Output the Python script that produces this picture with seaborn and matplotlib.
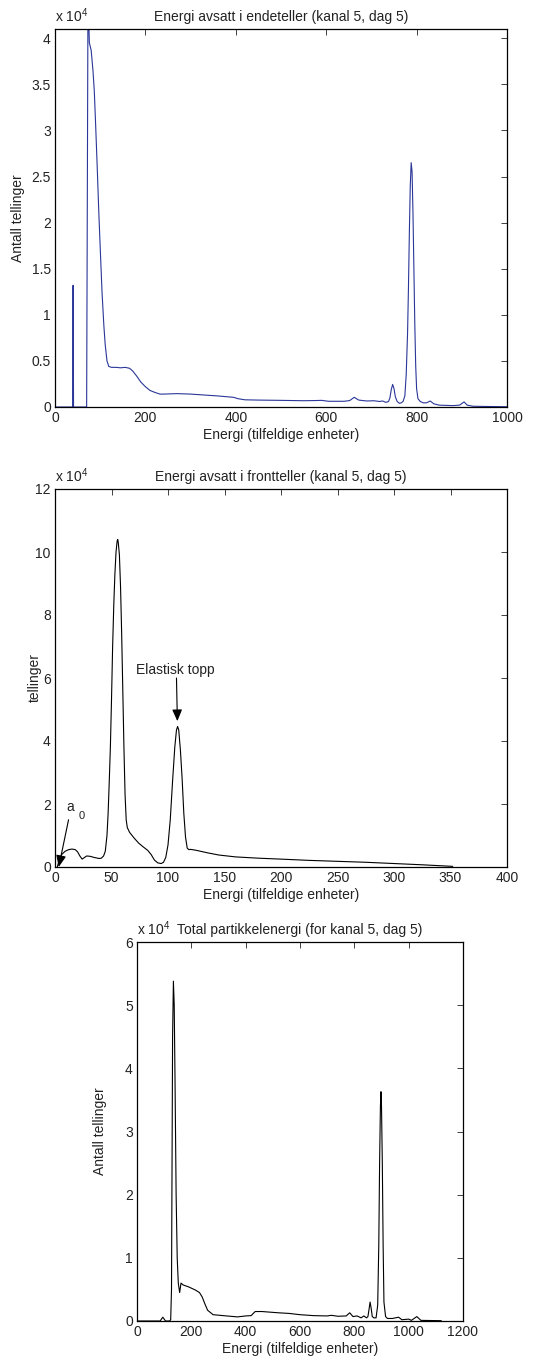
import numpy as np
import pandas as pd
import matplotlib
matplotlib.use("Agg")
import matplotlib.pyplot as plt
from matplotlib.ticker import FuncFormatter
import seaborn as sns

# --- Energy deposited in the end detector (channel 5, day 5) ---
end_energy = [0, 39, 40, 41, 70, 73, 76, 80, 84, 87, 90, 94, 97, 101, 104, 108, 111, 115, 119,
              125, 135, 145, 155, 165, 172, 180, 190, 200, 210, 220, 232, 240, 270, 300, 330,
              360, 395, 405, 420, 450, 500, 550, 575, 590, 605, 640, 652, 662, 672, 690, 705,
              718, 725, 732, 738, 741, 744, 747, 750, 753, 757, 762, 766, 770, 774, 777, 780,
              782, 784, 786, 788, 790, 792, 794, 796, 798, 800, 803, 808, 815, 822, 830, 838,
              850, 880, 895, 905, 912, 925, 950, 1000]
end_counts = [0, 0, 13200, 0, 0, 45000, 39500, 38700, 36500, 34200, 30500, 25200, 21000, 16100,
              12500, 8900, 6800, 5000, 4400, 4300, 4300, 4250, 4300, 4200, 3900, 3400, 2700,
              2200, 1800, 1600, 1400, 1400, 1450, 1400, 1300, 1200, 1050, 900, 780, 750, 720,
              680, 700, 720, 620, 620, 700, 1050, 750, 650, 680, 600, 650, 500, 600, 1000, 1900,
              2450, 2000, 1100, 600, 400, 450, 600, 1200, 3500, 8000, 13000, 19000, 24000,
              26500, 25500, 21000, 15000, 9000, 4500, 2000, 900, 600, 450, 450, 650, 350, 200,
              150, 200, 550, 200, 80, 60, 30]

# --- Energy deposited in the front detector (channel 5, day 5) ---
front_energy = [2, 4, 6, 9, 12, 15, 18, 20, 22, 24, 26, 28, 31, 35, 39, 41, 43, 44.5, 46, 47, 48,
                49, 50, 51, 52, 53, 54, 55, 55.5, 56, 57, 58, 59, 60, 61, 62, 63, 64, 66, 70, 74,
                78, 82, 85, 88, 91, 94, 96, 98, 100, 102, 104, 106, 107.5, 108.5, 109.5, 111,
                112.5, 114, 115.5, 117, 118.5, 120, 125, 135, 145, 160, 180, 200, 225, 250, 275,
                300, 325, 352]
front_counts = [0, 2500, 4000, 5000, 5500, 5700, 5500, 4800, 3500, 2500, 3000, 3500, 3400, 3000,
                2700, 2800, 3500, 5000, 10000, 17000, 27000, 38000, 53000, 70000, 83000, 93000,
                100000, 103500, 104000, 103000, 99000, 89000, 74000, 56000, 38000, 23000, 15000,
                12500, 11000, 9200, 7600, 6400, 5300, 4000, 2200, 1300, 1100, 1500, 3000, 7000,
                15000, 27000, 38000, 43500, 44600, 43500, 37000, 28000, 17000, 9500, 6000, 5500,
                5600, 5300, 4500, 3800, 3200, 2800, 2500, 2100, 1800, 1500, 1100, 700, 200]

# --- Total particle energy (channel 5, day 5) ---
total_energy = [0, 85, 95, 105, 120, 124, 127, 129, 131, 134, 137, 140, 144, 148, 152, 157, 162,
                170, 190, 215, 230, 240, 250, 260, 280, 330, 370, 400, 420, 435, 460, 520, 560,
                600, 650, 700, 715, 740, 770, 783, 795, 810, 825, 835, 845, 850, 854, 858, 862,
                866, 872, 880, 886, 890, 893, 896, 898, 900, 903, 906, 909, 915, 922, 940, 963,
                975, 1000, 1010, 1030, 1045, 1120]
total_counts = [0, 0, 600, 0, 0, 200, 5000, 25000, 45000, 53800, 50000, 38000, 20000, 10000,
                6000, 4500, 6000, 5700, 5400, 4900, 4500, 3800, 2700, 1700, 1000, 800, 650, 800,
                850, 1500, 1500, 1300, 1200, 1000, 850, 800, 900, 750, 800, 1300, 700, 800, 500,
                800, 500, 700, 1800, 3000, 2000, 700, 500, 500, 2500, 12000, 25000, 34000, 36300,
                34000, 25000, 12000, 3000, 700, 400, 400, 600, 200, 300, 100, 700, 100, 50]

end_xticks = [0, 200, 400, 600, 800, 1000]
end_yticks = [0, 5000, 10000, 15000, 20000, 25000, 30000, 35000, 40000]
front_xticks = [0, 50, 100, 150, 200, 250, 300, 350, 400]
front_yticks = [0, 20000, 40000, 60000, 80000, 100000, 120000]
total_xticks = [0, 200, 400, 600, 800, 1000, 1200]
total_yticks = [0, 10000, 20000, 30000, 40000, 50000, 60000]

sns.set_style("white")
plt.rcParams["font.family"] = ["Liberation Sans", "DejaVu Sans"]
plt.rcParams["mathtext.fontset"] = "custom"
plt.rcParams["mathtext.rm"] = "Liberation Sans"
plt.rcParams["mathtext.it"] = "Liberation Sans:italic"
plt.rcParams["font.size"] = 10

FS = 10
TXT = "#222222"
W, H = 556, 1363
fig = plt.figure(figsize=(W / 100, H / 100), dpi=100)
fig.patch.set_facecolor("white")


def make_axes(left, top, right, bottom):
    return fig.add_axes([left / W, 1 - bottom / H, (right - left) / W, (bottom - top) / H])


sci = FuncFormatter(lambda v, _: f"{v / 1e4:g}")


def style(ax, box, xlim, ylim, xticks, yticks, title, ylabel, ylabel_px):
    left, top, right, bottom = box
    ax.set_xlim(*xlim)
    ax.set_ylim(*ylim)
    ax.set_xticks(xticks)
    ax.set_yticks(yticks)
    ax.yaxis.set_major_formatter(sci)
    ax.tick_params(direction="in", length=4, width=0.6, top=True, right=True,
                   labelsize=FS, pad=3, colors=TXT, labelcolor=TXT)
    for s in ax.spines.values():
        s.set_visible(True)
        s.set_color("black")
        s.set_linewidth(0.9)
    ax.set_title(title, fontsize=FS, pad=6, color=TXT)
    ax.set_xlabel("Energi (tilfeldige enheter)", fontsize=FS, labelpad=2, color=TXT)
    ax.set_ylabel(ylabel, fontsize=FS, color=TXT, va="center")
    ax.yaxis.set_label_coords((ylabel_px - left) / (right - left), 0.5)
    ax.text(0.0, 1.01, r"x 10$^{4}$", transform=ax.transAxes, ha="left", va="bottom",
            fontsize=FS, color=TXT)


# Panel 1: end detector
box1 = (55, 29, 507, 407)
ax1 = make_axes(*box1)
sns.lineplot(x=end_energy, y=end_counts, ax=ax1, color="#2a3698", linewidth=0.8,
             sort=False, estimator=None)
style(ax1, box1, (0, 1000), (0, 41000), end_xticks, end_yticks,
      "Energi avsatt i endeteller (kanal 5, dag 5)", "Antall tellinger", 18)

# Panel 2: front detector
box2 = (55, 489, 507, 867)
ax2 = make_axes(*box2)
sns.lineplot(x=front_energy, y=front_counts, ax=ax2, color="black", linewidth=0.8,
             sort=False, estimator=None)
style(ax2, box2, (0, 400), (0, 120000), front_xticks, front_yticks,
      "Energi avsatt i frontteller (kanal 5, dag 5)", "tellinger", 35)
ax2.annotate("", xy=(108.3, 46300), xytext=(107.5, 60000),
             arrowprops=dict(arrowstyle="-|>,head_length=0.7,head_width=0.3",
                             color="black", lw=0.8, shrinkA=0, shrinkB=0))
ax2.text(71.5, 62600, "Elastisk topp", fontsize=FS, ha="left", va="center", color=TXT)
ax2.annotate("", xy=(3.3, 0), xytext=(12, 15000),
             arrowprops=dict(arrowstyle="-|>,head_length=0.7,head_width=0.3",
                             color="black", lw=0.8, shrinkA=0, shrinkB=0))
ax2.text(10, 19000, "a", fontsize=FS, ha="left", va="center", color=TXT)
ax2.text(20.5, 16300, "0", fontsize=8, ha="left", va="center", color=TXT)

# Panel 3: total particle energy
box3 = (137, 942, 463, 1321)
ax3 = make_axes(*box3)
sns.lineplot(x=total_energy, y=total_counts, ax=ax3, color="black", linewidth=0.8,
             sort=False, estimator=None)
style(ax3, box3, (0, 1200), (0, 60000), total_xticks, total_yticks,
      "Total partikkelenergi (for kanal 5, dag 5)", "Antall tellinger", 100)

fig.savefig("out.png", dpi=100, facecolor="white")
